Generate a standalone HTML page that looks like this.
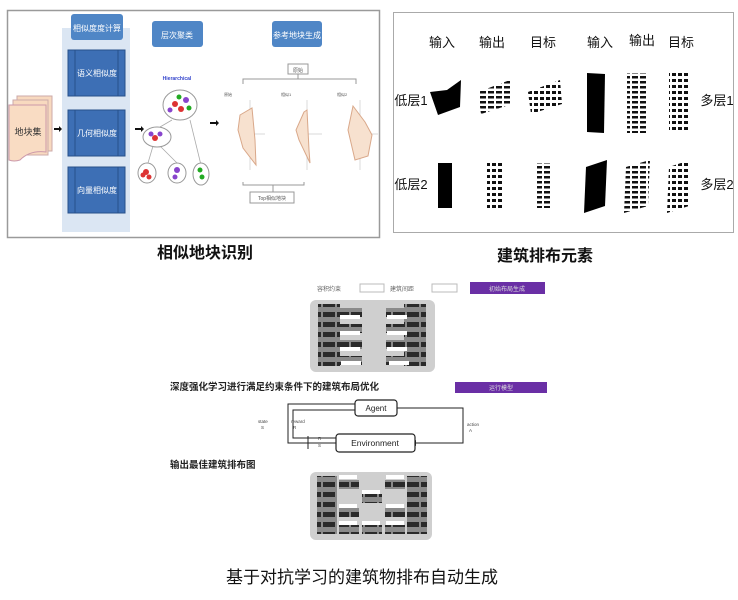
<!DOCTYPE html>
<html><head><meta charset="utf-8"><style>
html,body{margin:0;padding:0;background:#fff;}
svg{display:block;font-family:"Liberation Sans","Noto Sans CJK SC",sans-serif;}
</style></head><body>
<svg width="738" height="600" viewBox="0 0 738 600" xmlns="http://www.w3.org/2000/svg">
<defs>
<pattern id="st" width="8" height="5" patternUnits="userSpaceOnUse"><rect width="8" height="5" fill="#fff"/><rect x="0" y="1" width="6" height="2.5" fill="#111"/></pattern>
<pattern id="st2" width="6" height="6" patternUnits="userSpaceOnUse"><rect width="6" height="6" fill="#fff"/><rect x="0" y="1" width="4" height="3" fill="#111"/></pattern>
<pattern id="bld" width="14" height="10" patternUnits="userSpaceOnUse"><rect width="14" height="10" fill="#8a8a8a"/><rect x="1" y="2" width="12" height="5" fill="#2a2a2a"/></pattern>
</defs>

<!-- TOP LEFT PANEL -->
<rect x="7.5" y="10.5" width="372" height="227" fill="#fff" stroke="#9a9a9a" stroke-width="1.5"/>
<rect x="62" y="28" width="68" height="204" fill="#dbe6f3"/>
<rect x="71" y="14" width="52" height="26" rx="3" fill="#4f86c6"/>
<text x="97" y="31" font-size="8" fill="#fff" text-anchor="middle">相似度度计算</text>
<g fill="#3d6fb5" stroke="#27508a">
<rect x="68" y="50" width="57" height="46"/><rect x="68" y="110" width="57" height="46"/><rect x="68" y="167" width="57" height="46"/>
</g>
<g stroke="#27508a" stroke-width="1"><line x1="75" y1="50" x2="75" y2="96"/><line x1="118" y1="50" x2="118" y2="96"/><line x1="75" y1="110" x2="75" y2="156"/><line x1="118" y1="110" x2="118" y2="156"/><line x1="75" y1="167" x2="75" y2="213"/><line x1="118" y1="167" x2="118" y2="213"/></g>
<g font-size="8" fill="#fff" text-anchor="middle"><text x="97" y="76">语义相似度</text><text x="97" y="136">几何相似度</text><text x="97" y="193">向量相似度</text></g>
<!-- paper stack -->
<rect x="17" y="96" width="35" height="55" fill="#f8d9bf" stroke="#caa"/>
<rect x="13" y="100" width="35" height="55" fill="#f8d9bf" stroke="#caa"/>
<path d="M9 105 H46 V152 Q30 150 20 160 Q14 162 9 160 Z" fill="#f9dcc3" stroke="#c9a"/>
<text x="28" y="135" font-size="9" text-anchor="middle" fill="#333">地块集</text>
<g fill="#111"><path d="M54 128 h5 v-2 l3 3 -3 3 v-2 h-5z"/><path d="M135 128 h6 v-2 l3 3 -3 3 v-2 h-6z"/><path d="M210 122 h6 v-2 l3 3 -3 3 v-2 h-6z"/></g>
<rect x="152" y="21" width="51" height="26" rx="3" fill="#4f86c6"/>
<text x="177" y="38" font-size="8" fill="#fff" text-anchor="middle">层次聚类</text>
<rect x="272" y="21" width="50" height="26" rx="3" fill="#4f86c6"/>
<text x="297" y="38" font-size="8" fill="#fff" text-anchor="middle">参考地块生成</text>
<!-- cluster tree -->
<text x="177" y="80" font-size="5" fill="#3344cc" text-anchor="middle" font-weight="bold">Hierarchical</text>
<g stroke="#aaa" fill="none" stroke-width="0.8"><line x1="172" y1="120" x2="160" y2="127"/><line x1="190" y1="120" x2="201" y2="165"/><line x1="153" y1="146" x2="148" y2="163"/><line x1="160" y1="146" x2="177" y2="163"/></g>
<g fill="#fff" stroke="#999"><ellipse cx="180" cy="105" rx="17" ry="15"/><ellipse cx="157" cy="137" rx="14" ry="10"/><ellipse cx="147" cy="173" rx="9" ry="10"/><ellipse cx="177" cy="173" rx="9" ry="10"/><ellipse cx="201" cy="174" rx="8" ry="11"/></g>
<g fill="#d33"><circle cx="175" cy="104" r="3"/><circle cx="181" cy="109" r="3"/><circle cx="155" cy="138" r="3"/><circle cx="146" cy="172" r="3"/><circle cx="149" cy="177" r="2.5"/><circle cx="143" cy="175" r="2.5"/></g>
<g fill="#8844cc"><circle cx="186" cy="100" r="3"/><circle cx="170" cy="110" r="2.5"/><circle cx="160" cy="134" r="2.5"/><circle cx="151" cy="134" r="2.5"/><circle cx="177" cy="170" r="3"/><circle cx="175" cy="177" r="2.5"/></g>
<g fill="#2a2"><circle cx="179" cy="97" r="2.5"/><circle cx="189" cy="108" r="2.5"/><circle cx="200" cy="170" r="2.5"/><circle cx="202" cy="177" r="2.5"/></g>
<!-- radar charts -->
<rect x="288" y="64" width="20" height="10" fill="#fff" stroke="#999"/><text x="298" y="72" font-size="5" text-anchor="middle" fill="#555">原始</text>
<path d="M243 84 V79 H356 V84 M298 74 V79" stroke="#999" fill="none"/>
<path d="M243 182 V185 H304 V182 M273 185 V193" stroke="#999" fill="none"/>
<rect x="250" y="192" width="44" height="11" fill="#fff" stroke="#999"/><text x="272" y="200" font-size="5" text-anchor="middle" fill="#555">Top相似地块</text>
<g stroke="#ccc" stroke-width="0.7" fill="none"><line x1="240" y1="134" x2="265" y2="134"/><line x1="250" y1="100" x2="250" y2="170"/><line x1="297" y1="134" x2="322" y2="134"/><line x1="307" y1="100" x2="307" y2="170"/><line x1="352" y1="134" x2="378" y2="134"/><line x1="360" y1="100" x2="360" y2="170"/></g>
<path d="M240 115 L252 108 L255 140 L256 165 L243 148 L238 130Z" fill="#f7e1cf" stroke="#d9a88a"/>
<path d="M304 112 L307 110 L309 150 L310 163 L299 140 L296 130Z" fill="#f7e1cf" stroke="#d9a88a"/>
<path d="M353 106 L365 122 L372 135 L368 156 L355 160 L348 130Z" fill="#f7e1cf" stroke="#d9a88a"/>
<g font-size="4" fill="#555"><text x="224" y="96">原始</text><text x="281" y="96">相似1</text><text x="337" y="96">相似2</text></g>

<!-- TOP RIGHT PANEL -->
<rect x="393.5" y="12.5" width="340" height="220" fill="#fff" stroke="#aaa"/>
<g font-size="13" fill="#111" text-anchor="middle">
<text x="442" y="47">输入</text><text x="492" y="47">输出</text><text x="543" y="47">目标</text><text x="600" y="47">输入</text><text x="642" y="45">输出</text><text x="681" y="47">目标</text>
<text x="411" y="105">低层1</text><text x="717" y="105">多层1</text><text x="411" y="189">低层2</text><text x="717" y="189">多层2</text>
</g>
<path d="M430 92 L447 90 L461 80 L460 107 L438 115Z" fill="#000"/>
<path d="M478 92 L510 80 L512 104 L481 114Z" fill="url(#st)"/>
<path d="M528 92 L560 80 L562 104 L531 114Z" fill="url(#st2)"/>
<path d="M587 73 L605 74 L604 133 L587 132Z" fill="#000"/>
<rect x="627" y="73" width="20" height="60" fill="url(#st)"/>
<rect x="669" y="73" width="19" height="60" fill="url(#st2)"/>
<rect x="438" y="163" width="14" height="45" fill="#000"/>
<rect x="487" y="163" width="15" height="45" fill="url(#st2)"/>
<rect x="537" y="163" width="15" height="45" fill="url(#st)"/>
<path d="M586 167 L607 160 L605 206 L584 213Z" fill="#000"/>
<path d="M626 167 L650 160 L648 206 L624 213Z" fill="url(#st)"/>
<path d="M669 167 L690 160 L689 206 L667 213Z" fill="url(#st2)"/>

<!-- captions -->
<g font-size="16" font-weight="bold" fill="#111" text-anchor="middle">
<text x="205" y="258">相似地块识别</text>
<text x="545" y="261">建筑排布元素</text>
<text x="362" y="583" font-weight="normal" font-size="17">基于对抗学习的建筑物排布自动生成</text>
</g>

<!-- BOTTOM -->
<g font-size="6" fill="#666"><text x="317" y="291">容积约束</text><text x="390" y="291">建筑间距</text></g>
<rect x="360" y="284" width="24" height="8" fill="#fff" stroke="#bbb"/>
<rect x="432" y="284" width="25" height="8" fill="#fff" stroke="#bbb"/>
<rect x="470" y="282" width="75" height="12" fill="#6a2fa5"/>
<text x="507" y="291" font-size="6" fill="#ddd" text-anchor="middle">初始布局生成</text>
<g>
<rect x="310" y="300" width="125" height="72" rx="6" fill="#cfcfcf"/>
<rect x="318" y="304" width="22" height="62" fill="url(#bld)"/>
<rect x="404" y="304" width="22" height="62" fill="url(#bld)"/>
<g fill="url(#bld)"><rect x="340" y="308" width="22" height="9"/><rect x="340" y="324" width="22" height="9"/><rect x="340" y="340" width="22" height="9"/><rect x="340" y="356" width="22" height="9"/><rect x="386" y="308" width="22" height="9"/><rect x="386" y="324" width="22" height="9"/><rect x="386" y="340" width="22" height="9"/><rect x="386" y="356" width="22" height="9"/></g>
<g fill="#fff"><rect x="340" y="315" width="20" height="4"/><rect x="340" y="331" width="20" height="4"/><rect x="340" y="347" width="20" height="4"/><rect x="341" y="361" width="20" height="4"/><rect x="387" y="315" width="20" height="4"/><rect x="387" y="331" width="20" height="4"/><rect x="387" y="347" width="20" height="4"/><rect x="389" y="361" width="20" height="4"/></g>
</g>
<text x="170" y="390" font-size="9.5" font-weight="bold" fill="#222">深度强化学习进行满足约束条件下的建筑布局优化</text>
<rect x="455" y="382" width="92" height="11" fill="#6a2fa5"/>
<text x="501" y="390" font-size="6" fill="#ddd" text-anchor="middle">运行模型</text>
<!-- RL diagram -->
<g stroke="#222" fill="none" stroke-width="1">
<path d="M397 408 H463 V443 H416"/>
<path d="M336 443 H288 V404 H355"/>
<path d="M336 438 H293 V410 H355"/>
<line x1="308" y1="436" x2="308" y2="449"/>
</g>
<g fill="#222"><path d="M355 401 l4 3 -4 3z"/><path d="M355 407 l4 3 -4 3z"/><path d="M416 443 l4 -3 v6z" transform="translate(-4,0)"/></g>
<rect x="355" y="400" width="42" height="16" rx="3" fill="#fff" stroke="#222" stroke-width="1.2"/>
<text x="376" y="411" font-size="8" text-anchor="middle" fill="#222">Agent</text>
<rect x="336" y="434" width="79" height="18" rx="3" fill="#fff" stroke="#222" stroke-width="1.2"/>
<text x="375" y="446" font-size="8.5" text-anchor="middle" fill="#222">Environment</text>
<g font-size="4.5" fill="#444"><text x="258" y="423">state</text><text x="261" y="429">S</text><text x="291" y="423">reward</text><text x="293" y="429">R</text><text x="467" y="426">action</text><text x="469" y="432">A</text><text x="318" y="440">R</text><text x="318" y="447">S</text></g>
<text x="170" y="468" font-size="9.5" font-weight="bold" fill="#222">输出最佳建筑排布图</text>
<g>
<rect x="310" y="472" width="122" height="68" rx="6" fill="#cfcfcf"/>
<rect x="317" y="476" width="20" height="58" fill="url(#bld)"/>
<rect x="407" y="476" width="20" height="58" fill="url(#bld)"/>
<g fill="url(#bld)"><rect x="339" y="480" width="20" height="9"/><rect x="385" y="480" width="20" height="9"/><rect x="362" y="494" width="20" height="9"/><rect x="339" y="508" width="20" height="9"/><rect x="385" y="508" width="20" height="9"/><rect x="339" y="525" width="20" height="9"/><rect x="362" y="525" width="20" height="9"/><rect x="385" y="525" width="20" height="9"/></g>
<g fill="#fff"><rect x="339" y="475" width="18" height="4"/><rect x="386" y="475" width="18" height="4"/><rect x="362" y="490" width="18" height="4"/><rect x="339" y="504" width="18" height="4"/><rect x="386" y="504" width="18" height="4"/><rect x="339" y="521" width="18" height="4"/><rect x="362" y="521" width="18" height="4"/><rect x="386" y="521" width="18" height="4"/></g>
</g>
</svg>
</body></html>
